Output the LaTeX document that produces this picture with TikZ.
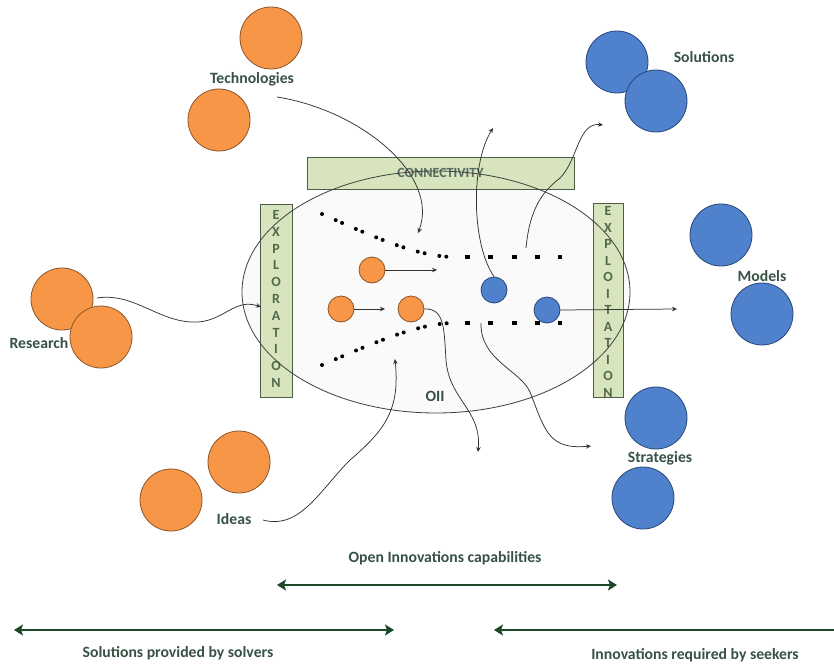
\documentclass[tikz,border=0pt]{standalone}
\usepackage{fontspec}
\setmainfont{Carlito}
\usetikzlibrary{arrows.meta}
\definecolor{orangefill}{RGB}{247,150,70}
\definecolor{orangeline}{RGB}{140,85,40}
\definecolor{bluefill}{RGB}{79,129,204}
\definecolor{blueline}{RGB}{40,70,120}
\definecolor{boxfill}{RGB}{215,228,189}
\definecolor{boxline}{RGB}{75,95,70}
\definecolor{labelcol}{RGB}{55,82,68}
\definecolor{lettercol}{RGB}{80,105,75}
\definecolor{capgreen}{RGB}{28,72,40}
\tikzset{
  orangeball/.style={circle,draw=orangeline,fill=orangefill,line width=0.8pt,minimum size=62pt,inner sep=0pt},
  blueball/.style={circle,draw=blueline,fill=bluefill,line width=0.8pt,minimum size=62pt,inner sep=0pt},
  smallball/.style={minimum size=26pt},
  lbl/.style={font=\bfseries\fontsize{15.7}{17}\selectfont,text=labelcol,inner sep=0pt},
  boxletter/.style={font=\bfseries\fontsize{14}{15}\selectfont,text=lettercol,inner sep=0pt},
  greenbox/.style={draw=boxline,fill=boxfill,line width=0.8pt,inner sep=0pt},
  flow/.style={draw=black!80,line width=0.75pt,-{Stealth[length=5pt,width=4.5pt]}},
  dotrow/.style={line width=4pt,line cap=round,dash pattern=on 0pt off 15pt on 0pt off 7pt},
  dashrow/.style={line width=3.5pt,dash pattern=on 5pt off 18.25pt},
  capab/.style={draw=capgreen,line width=2.8pt,{Stealth[length=9pt,width=11pt,inset=2pt]}-{Stealth[length=9pt,width=11pt,inset=2pt]}},
}
\begin{document}
\begin{tikzpicture}[x=1pt,y=-1pt]
\useasboundingbox (0,0) rectangle (834,663);
% OII area
\fill[black!2] (436,292) ellipse [x radius=194pt, y radius=121pt];
\node[greenbox,minimum width=267pt,minimum height=32pt,boxletter,text=labelcol!85] (conn) at (440.5,173) {CONNECTIVITY};
\node[greenbox,minimum width=32pt,minimum height=193pt] (explor) at (276,300.5) {};
\node[greenbox,minimum width=30pt,minimum height=194pt] (exploit) at (608,300) {};
\foreach \ch [count=\i from 0] in {E,X,P,L,O,R,A,T,I,O,N}
  \node[boxletter] (xl\i) at (276,215+16.8*\i) {\ch};
\foreach \ch [count=\i from 0] in {E,X,P,L,O,I,T,A,T,I,O,N}
  \node[boxletter] (xt\i) at (608,211+16.5*\i) {\ch};
\draw[black!75,line width=0.8pt] (436,292) ellipse [x radius=194pt, y radius=121pt];
\node[lbl] (oii) at (435,396) {OII};

% dotted bounds
\draw[dotrow] (322,214) .. controls (380,240) and (420,257) .. (455,257);
\draw[dashrow] (465,257) -- (562,257);
\draw[dotrow] (322,365) .. controls (380,340) and (420,323) .. (455,323);
\draw[dashrow] (465,323) -- (562,323);

% inner circles
\node[orangeball,smallball] (o1) at (372,270) {};
\node[orangeball,smallball] (o2) at (341,309) {};
\node[orangeball,smallball] (o3) at (411,309) {};
\node[blueball,smallball] (b1) at (494,290) {};
\node[blueball,smallball] (b2) at (547,310) {};

% outside circles
\node[orangeball] (tech1) at (271,38) {};
\node[orangeball] (tech2) at (219,120) {};
\node[lbl] (techlbl) at (252,79) {Technologies};
\node[orangeball] (res1) at (62,299) {};
\node[orangeball] (res2) at (101,337) {};
\node[lbl] (reslbl) at (39,343) {Research};
\node[orangeball] (idea1) at (239,462) {};
\node[orangeball] (idea2) at (171,500) {};
\node[lbl] (idealbl) at (234,519) {Ideas};
\node[blueball] (sol1) at (617,62) {};
\node[blueball] (sol2) at (656,101) {};
\node[lbl] (sollbl) at (704,57) {Solutions};
\node[blueball] (mod1) at (721,235) {};
\node[blueball] (mod2) at (762,314) {};
\node[lbl] (modlbl) at (762,276) {Models};
\node[blueball] (str1) at (656,418) {};
\node[blueball] (str2) at (643,498) {};
\node[lbl] (strlbl) at (660,458) {Strategies};

% flows
\coordinate (techin) at (277,97);   \coordinate (techout) at (418,233);
\coordinate (resin) at (97,298);    \coordinate (resout) at (261,307);
\coordinate (ideain) at (263,520);  \coordinate (ideaout) at (395,359);
\coordinate (upin) at (526,248);    \coordinate (solout) at (603,125);
\coordinate (b1out) at (493,128);
\coordinate (o3out) at (478,452);
\coordinate (lowin) at (481,323);   \coordinate (strout) at (591,446);
\coordinate (o1out) at (437,270);
\coordinate (o2out) at (385,309);
\coordinate (b2out) at (677,309);
\draw[flow] (techin) .. controls (360,110) and (440,175) .. (techout);
\draw[flow] (resin) .. controls (135,292) and (160,324) .. (198,322) .. controls (225,320) and (235,298) .. (resout);
\draw[flow] (ideain) .. controls (300,530) and (320,490) .. (350,460) .. controls (385,430) and (400,410) .. (ideaout);
\draw[flow] (b1.north) .. controls (472,245) and (470,165) .. (b1out);
\draw[flow] (upin) .. controls (530,205) and (545,190) .. (560,178) .. controls (578,160) and (578,122) .. (solout);
\draw[flow] (o3.east) .. controls (445,308) and (444,330) .. (446,360) .. controls (449,400) and (482,410) .. (o3out);
\draw[flow] (lowin) .. controls (480,360) and (520,370) .. (530,392) .. controls (545,430) and (548,450) .. (strout);
\draw[flow] (o1.east) -- (o1out);
\draw[flow] (o2.east) -- (o2out);
\draw[flow] (b2.east) -- (b2out);

% capabilities
\node[lbl] (openlbl) at (445,558) {Open Innovations capabilities};
\coordinate (openl) at (277,585); \coordinate (openr) at (617,585);
\draw[capab] (openl) -- (openr);
\coordinate (solvl) at (14,630); \coordinate (solvr) at (394,630);
\draw[capab] (solvl) -- (solvr);
\node[lbl] (solvlbl) at (178,653) {Solutions provided by solvers};
\coordinate (seekl) at (494,630); \coordinate (seekr) at (834,630);
\draw[capab,-{Stealth[length=9pt,width=11pt,inset=2pt]}] (seekr) -- (seekl);
\node[lbl] (seeklbl) at (695,655) {Innovations required by seekers};
\end{tikzpicture}
\end{document}
